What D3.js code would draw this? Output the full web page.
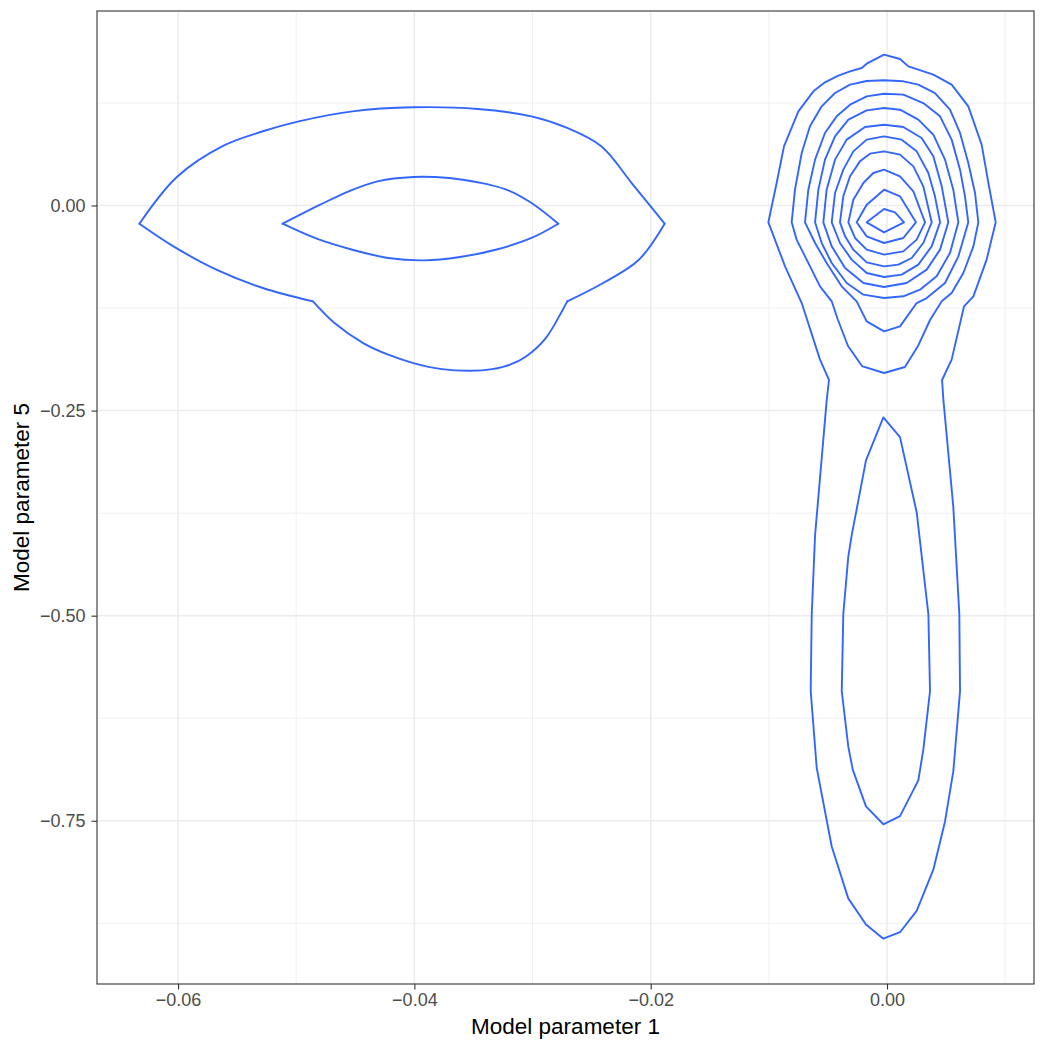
<!DOCTYPE html>
<html><head><meta charset="utf-8">
<script src="https://cdn.jsdelivr.net/npm/d3@7"></script>
<style>body{margin:0;background:#fff}</style>
</head><body><svg id="c" width="1050" height="1050"></svg>
<script>
// ---- data (model parameter 1 = x, model parameter 5 = y) ----
const xTicks = [-0.06, -0.04, -0.02, 0.00];
const xMinor = [-0.05, -0.03, -0.01, 0.01];
const yTicks = [0.00, -0.25, -0.50, -0.75];
const yMinor = [0.125, -0.125, -0.375, -0.625, -0.875];
const xDomain = [-0.06686, 0.01244];
const yDomain = [-0.9490, 0.2371];

// left mode: smooth contour arcs (joined at sharp corners)
const leftOuterTop = [[-0.06327,-0.0222],[-0.0601,0.0348],[-0.05615,0.073],[-0.05282,0.0905],[-0.04979,0.1026],[-0.04524,0.1148],[-0.04009,0.1197],[-0.03464,0.1177],[-0.03009,0.1087],[-0.02706,0.0945],[-0.02418,0.0722],[-0.02161,0.0274],[-0.01882,-0.0222]];
const leftOuterRight = [[-0.01882,-0.0222],[-0.021,-0.0661],[-0.02403,-0.0945],[-0.02706,-0.1169]];
const leftOuterBottom = [[-0.02706,-0.1169],[-0.02752,-0.1291],[-0.02888,-0.1616],[-0.03055,-0.184],[-0.03191,-0.1941],[-0.03342,-0.1994],[-0.03524,-0.2014],[-0.03767,-0.1994],[-0.04009,-0.1921],[-0.04221,-0.1819],[-0.04433,-0.1677],[-0.04676,-0.1433],[-0.04858,-0.1169]];
const leftOuterLeft = [[-0.04858,-0.1169],[-0.05282,-0.1006],[-0.05676,-0.0782],[-0.06039,-0.0498],[-0.06327,-0.0222]];
const leftInnerTop = [[-0.05115,-0.0222],[-0.04797,0.001],[-0.04555,0.0173],[-0.04312,0.0295],[-0.04009,0.0348],[-0.03706,0.0335],[-0.03464,0.0283],[-0.03221,0.0193],[-0.03009,0.003],[-0.02782,-0.0222]];
const leftInnerBottom = [[-0.02782,-0.0222],[-0.03009,-0.0396],[-0.03312,-0.0539],[-0.03615,-0.0628],[-0.03918,-0.0669],[-0.04221,-0.064],[-0.04524,-0.0539],[-0.04827,-0.0404],[-0.05115,-0.0222]];

// right mode: closed polygon contours
const rightOuter = [[-0.00025,0.1839],[0.0011,0.1786],[0.00181,0.1696],[0.00265,0.1656],[0.00392,0.1595],[0.00547,0.1473],[0.00688,0.1209],[0.00801,0.0742],[0.00858,0.0274],[0.0092,-0.0205],[0.00843,-0.066],[0.00731,-0.1107],[0.00652,-0.1229],[0.00547,-0.1879],[0.00466,-0.2127],[0.00477,-0.2366],[0.00561,-0.3673],[0.00612,-0.4981],[0.00618,-0.5919],[0.00561,-0.6899],[0.00491,-0.7508],[0.00392,-0.8097],[0.00251,-0.8598],[0.0011,-0.8859],[-0.00031,-0.8938],[-0.00178,-0.8764],[-0.00328,-0.8446],[-0.00468,-0.7814],[-0.00595,-0.6855],[-0.00646,-0.5917],[-0.00637,-0.4981],[-0.00609,-0.4022],[-0.0051,-0.2366],[-0.00491,-0.2127],[-0.00567,-0.1879],[-0.00722,-0.1189],[-0.00863,-0.0742],[-0.01004,-0.0205],[-0.00934,0.0274],[-0.00872,0.0721],[-0.0075,0.1148],[-0.00623,0.1392],[-0.00525,0.1501],[-0.00412,0.1583],[-0.00313,0.1636],[-0.00214,0.1676],[-0.00172,0.1729]];
const tailInner = [[-0.00031,-0.2584],[0.0011,-0.2823],[0.00251,-0.3739],[0.0035,-0.4981],[0.00364,-0.5919],[0.00307,-0.6637],[0.00265,-0.7007],[0.0011,-0.7444],[-0.00031,-0.7543],[-0.00178,-0.7325],[-0.0029,-0.6877],[-0.00328,-0.6594],[-0.00383,-0.5919],[-0.0037,-0.4981],[-0.00328,-0.4284],[-0.00299,-0.4022],[-0.00178,-0.3107]];
const ring2 = [[-0.00025,0.1526],[0.00138,0.1514],[0.00265,0.1473],[0.00406,0.1371],[0.00533,0.1168],[0.00618,0.0884],[0.00688,0.0518],[0.00745,0.0152],[0.00773,-0.0205],[0.00731,-0.0498],[0.00646,-0.0823],[0.00547,-0.1067],[0.00463,-0.1168],[0.00364,-0.1396],[0.00262,-0.1713],[0.00152,-0.1969],[-0.00025,-0.2042],[-0.00212,-0.1957],[-0.0033,-0.1713],[-0.00415,-0.1396],[-0.00468,-0.1168],[-0.00567,-0.0985],[-0.0068,-0.066],[-0.00765,-0.0416],[-0.00807,-0.0205],[-0.00779,0.0193],[-0.00722,0.064],[-0.00652,0.0965],[-0.00553,0.1209],[-0.0044,0.1371],[-0.00313,0.1473],[-0.00172,0.1518]];
const ring3 = [[-0.00025,0.1363],[0.00138,0.1351],[0.00307,0.1249],[0.00449,0.1087],[0.00547,0.0803],[0.00618,0.0437],[0.0066,0.0112],[0.00688,-0.0205],[0.00604,-0.062],[0.00491,-0.0945],[0.00336,-0.1128],[0.00251,-0.1189],[0.0011,-0.1473],[-0.00025,-0.1534],[-0.00172,-0.1412],[-0.00257,-0.1168],[-0.00384,-0.0985],[-0.00511,-0.0701],[-0.00609,-0.0457],[-0.00694,-0.0205],[-0.00666,0.0193],[-0.00609,0.0559],[-0.00525,0.0884],[-0.00426,0.1087],[-0.00313,0.1229],[-0.00172,0.1331]];
const ring4 = [[-0.00025,0.1189],[0.0011,0.1168],[0.00265,0.1046],[0.00392,0.0863],[0.00491,0.0559],[0.00561,0.0193],[0.00604,-0.0205],[0.00533,-0.0579],[0.0042,-0.0863],[0.00279,-0.1026],[0.00138,-0.1107],[-0.00025,-0.1128],[-0.002,-0.1087],[-0.00341,-0.0945],[-0.00468,-0.0701],[-0.00553,-0.0457],[-0.00609,-0.0205],[-0.00581,0.0193],[-0.00525,0.0559],[-0.0044,0.0843],[-0.00327,0.1046],[-0.00172,0.116]];
const ring5 = [[-0.00025,0.0985],[0.00138,0.0957],[0.00293,0.0823],[0.00392,0.0599],[0.00463,0.0234],[0.00519,-0.0205],[0.00449,-0.0538],[0.00336,-0.0782],[0.00166,-0.0945],[-0.00025,-0.0993],[-0.002,-0.0945],[-0.00355,-0.0762],[-0.00468,-0.0498],[-0.00539,-0.0205],[-0.00511,0.0193],[-0.0044,0.0559],[-0.00341,0.0803],[-0.00186,0.0957]];
const ring6 = [[-0.00025,0.0843],[0.00124,0.0803],[0.00251,0.066],[0.0035,0.0396],[0.00406,0.0112],[0.00449,-0.0205],[0.00378,-0.0498],[0.00265,-0.0721],[0.00124,-0.0843],[-0.00025,-0.0872],[-0.00172,-0.0823],[-0.00299,-0.066],[-0.00398,-0.0457],[-0.00468,-0.0205],[-0.0044,0.0152],[-0.0037,0.0437],[-0.00285,0.066],[-0.00172,0.0803]];
const ring7 = [[-0.00025,0.066],[0.0011,0.062],[0.00223,0.0477],[0.00307,0.0234],[0.00378,-0.0205],[0.00307,-0.0457],[0.00209,-0.064],[0.00096,-0.0721],[-0.00025,-0.0742],[-0.00172,-0.0693],[-0.00285,-0.0538],[-0.00355,-0.0376],[-0.00398,-0.0205],[-0.0037,0.0112],[-0.00313,0.0356],[-0.00229,0.0538],[-0.00144,0.0632]];
const ring8 = [[-0.00025,0.0437],[0.0011,0.0356],[0.00223,0.0173],[0.00322,-0.0205],[0.00251,-0.0416],[0.00138,-0.0559],[-0.00025,-0.0599],[-0.00172,-0.0538],[-0.00271,-0.0396],[-0.00327,-0.0205],[-0.00285,0.0071],[-0.002,0.0274],[-0.00116,0.0396]];
const ring9 = [[-0.00025,0.0193],[0.0011,0.0112],[0.00245,-0.0205],[0.00138,-0.0396],[-0.00025,-0.0457],[-0.00172,-0.0376],[-0.00257,-0.0205],[-0.00172,0.001]];
const ring10 = [[-0.00025,-0.0043],[0.00068,-0.0083],[0.00144,-0.0205],[-0.00025,-0.0327],[-0.00172,-0.0205]];

const smoothArcs = [leftOuterTop, leftOuterRight, leftOuterBottom, leftOuterLeft, leftInnerTop, leftInnerBottom];
const polygons = [rightOuter, tailInner, ring2, ring3, ring4, ring5, ring6, ring7, ring8, ring9, ring10];

// ---- drawing ----
const svg = d3.select('#c');
const P = {l: 97, r: 1034, t: 11, b: 984};
const x = d3.scaleLinear().domain(xDomain).range([P.l, P.r]);
const y = d3.scaleLinear().domain(yDomain).range([P.b, P.t]);
const fmt = v => (v < 0 ? '\u2212' : '') + Math.abs(v).toFixed(2);
const FONT = '"Liberation Sans", Arial, Helvetica, sans-serif';
const COL = '#3366FF', LW = 1.9;

svg.append('rect').attr('width', 1050).attr('height', 1050).attr('fill', '#fff');

svg.append('defs').append('clipPath').attr('id', 'clip')
  .append('rect').attr('x', P.l).attr('y', P.t).attr('width', P.r - P.l).attr('height', P.b - P.t);

const grid = svg.append('g');
grid.selectAll('.xm').data(xMinor).enter().append('line')
  .attr('x1', d => x(d)).attr('x2', d => x(d)).attr('y1', P.t).attr('y2', P.b)
  .attr('stroke', '#EBEBEB').attr('stroke-width', 0.75);
grid.selectAll('.ym').data(yMinor).enter().append('line')
  .attr('y1', d => y(d)).attr('y2', d => y(d)).attr('x1', P.l).attr('x2', P.r)
  .attr('stroke', '#EBEBEB').attr('stroke-width', 0.75);
grid.selectAll('.xM').data(xTicks).enter().append('line')
  .attr('x1', d => x(d)).attr('x2', d => x(d)).attr('y1', P.t).attr('y2', P.b)
  .attr('stroke', '#EBEBEB').attr('stroke-width', 1.5);
grid.selectAll('.yM').data(yTicks).enter().append('line')
  .attr('y1', d => y(d)).attr('y2', d => y(d)).attr('x1', P.l).attr('x2', P.r)
  .attr('stroke', '#EBEBEB').attr('stroke-width', 1.5);

const plot = svg.append('g').attr('clip-path', 'url(#clip)');
const arcLine = d3.line().x(d => x(d[0])).y(d => y(d[1])).curve(d3.curveCatmullRom.alpha(0.5));
const polyLine = d3.line().x(d => x(d[0])).y(d => y(d[1])).curve(d3.curveLinearClosed);
plot.selectAll('path.arc').data(smoothArcs).enter().append('path').attr('class', 'arc')
  .attr('d', arcLine).attr('fill', 'none').attr('stroke', COL)
  .attr('stroke-width', LW).attr('stroke-linejoin', 'round').attr('stroke-linecap', 'round');
plot.selectAll('path.poly').data(polygons).enter().append('path').attr('class', 'poly')
  .attr('d', polyLine).attr('fill', 'none').attr('stroke', COL)
  .attr('stroke-width', LW).attr('stroke-linejoin', 'round');

svg.append('rect').attr('x', P.l).attr('y', P.t).attr('width', P.r - P.l).attr('height', P.b - P.t)
  .attr('fill', 'none').attr('stroke', '#333333').attr('stroke-width', 1.1);

const xAxis = svg.append('g').attr('transform', `translate(0,${P.b})`)
  .call(d3.axisBottom(x).tickValues(xTicks).tickFormat(fmt).tickSize(5.5).tickPadding(4));
const yAxis = svg.append('g').attr('transform', `translate(${P.l},0)`)
  .call(d3.axisLeft(y).tickValues(yTicks).tickFormat(fmt).tickSize(5.5).tickPadding(6));
[xAxis, yAxis].forEach(a => {
  a.select('.domain').remove();
  a.selectAll('.tick line').attr('stroke', '#333333').attr('stroke-width', 1.1);
  a.selectAll('.tick text').attr('fill', '#4D4D4D').style('font-family', FONT).style('font-size', '18px');
});

svg.append('text').attr('x', (P.l + P.r) / 2).attr('y', 1034).attr('text-anchor', 'middle')
  .style('font-family', FONT).style('font-size', '22.5px').attr('fill', '#000').text('Model parameter 1');
svg.append('text').attr('transform', `translate(29,${(P.t + P.b) / 2}) rotate(-90)`).attr('text-anchor', 'middle')
  .style('font-family', FONT).style('font-size', '22.5px').attr('fill', '#000').text('Model parameter 5');
</script></body></html>
